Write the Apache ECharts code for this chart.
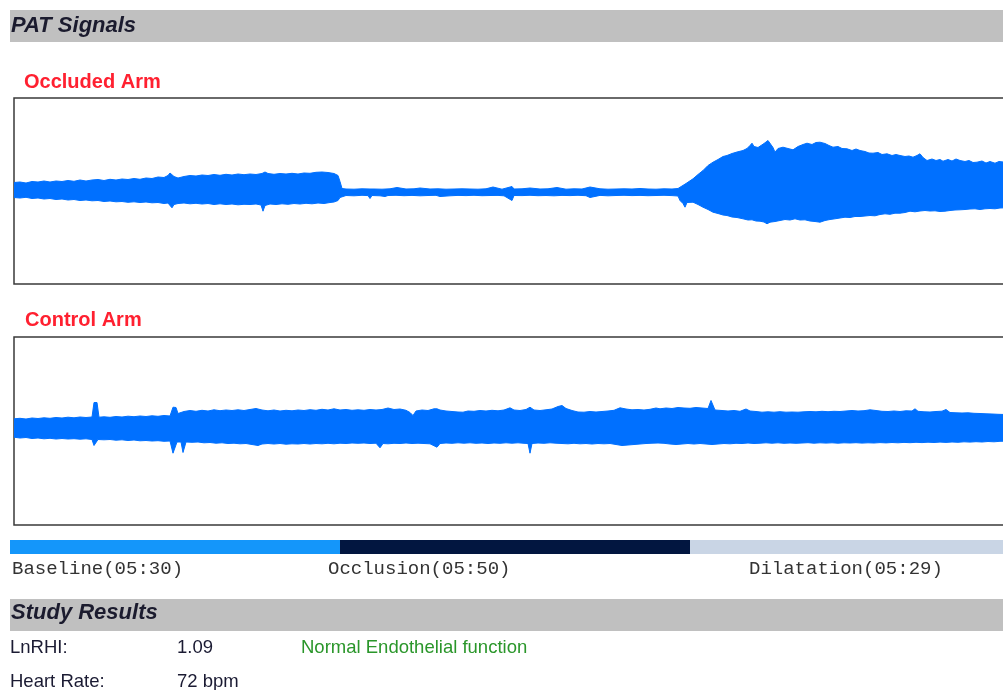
<!DOCTYPE html>
<html>
<head>
<meta charset="utf-8">
<title>PAT Signals</title>
<script src="https://cdn.jsdelivr.net/npm/echarts@6/dist/echarts.min.js"></script>
<style>
  html, body { margin: 0; padding: 0; background: #ffffff; width: 1003px; height: 690px; overflow: hidden; }
  #chart { width: 1040px; height: 690px; }
</style>
</head>
<body>
<div id="chart"></div>
<script>
// Phase timeline (seconds)
const phaseNames = ['Baseline', 'Occlusion', 'Dilatation'];
const phaseDurations = [330, 350, 329];
const phaseColors = ['#1496fa', '#021640', '#c9d5e5'];

// Study results
const resultLabels = ['LnRHI:', 'Heart Rate:'];
const resultValues = ['1.09', '72 bpm'];
const resultNote = 'Normal Endothelial function';

// PAT signal envelopes: [time (s), amplitude]
const occludedUpper = [
  [4,8.5],[10,9],[16,8],[22,9.5],[28,9],[34,10],[40,9],[46,10],[52,9.5],[58,10.5],[64,9.7],[70,11],[76,10],[82,11],[88,11.5],[94,10.5],[100,11.7],[106,11],[112,12],[118,11.5],[124,12.5],[130,11.7],[136,13],[142,12.5],[148,14],[154,13.5],[158,15.5],[160,18],[162,17.5],[164,14.5],[168,13],[174,14.5],[180,15.5],[186,15],[192,16],[198,15.5],[204,16.5],[210,15.7],[216,16.7],[222,16],[228,17],[234,16.3],[240,17],[246,16.5],[252,17.5],[255,19],[258,17.5],[264,16.7],[270,17.5],[276,17],[282,17.7],[288,17],[294,18],[300,17.7],[306,18.7],[312,19],[318,18.5],[324,17.5],[328,15.5],[330,9.5],[332,2.5],
  [336,2],[344,1.8],[352,2.2],[360,2],[362,3.5],[364,2],[372,1.8],[380,2.2],[387,3.5],[389,2],[396,2],[404,2.2],[410,3],[412,1.8],[420,2],[428,2.2],[436,1.8],[444,2],[452,2.2],[460,2],[468,1.8],[476,2.2],[483,4],[485,2],[492,1.8],[502,4.5],[504,2],[512,2.2],[520,3],[522,1.8],[530,2],[538,2.2],[547,3.5],[549,2],[556,1.8],[564,2.2],[572,2],[580,4],[582,2],[590,2.2],[598,1.8],[606,2],[614,2.2],[622,2],[630,2.5],[638,2],[646,1.8],[654,2.2],[662,2],[668,2.5],
  [670,3.8],[676,7.5],[683,12.2],[688,16.5],[693,20.5],[698,25.5],[703,28.8],[708,31.5],[713,34.5],[717,35.5],[722,37.5],[727,39],[733,40.5],[737,42.5],[740,45.5],[742,47.8],[744,44.5],[748,43.5],[750,43.8],[754,47.5],[758,50.5],[760,49.5],[763,43.5],[765,38.8],[768,42.5],[773,43.8],[778,42.5],[783,41.2],[788,44.5],[793,46.5],[797,47.8],[802,46.5],[806,48.5],[810,48.8],[815,47.5],[819,45.5],[823,43.8],[828,44.5],[832,42.5],[837,42.2],[842,40.5],[846,42],[850,40.5],[855,39.5],[859,38],[863,37.8],[868,38.5],[872,36.5],[877,37.2],[882,35.5],[886,36.5],[890,35.5],[895,34.5],[899,35],[903,33.8],[907,35.5],[910,37.2],[913,33.5],[917,30.5],[922,32],[926,30.5],[930,31.5],[933,29.8],[938,31.5],[942,30],[946,32],[950,30.5],[955,29.5],[959,30.5],[963,28.5],[967,28.8],[972,30],[976,28],[980,29.5],[985,27.8],[989,29.5],[995,28.8],[1009,28.5]
];
const occludedLower = [
  [4,-6.5],[10,-7],[16,-6.3],[22,-7.5],[28,-7],[34,-8],[40,-7.5],[46,-8.5],[52,-8],[58,-9],[64,-8.5],[70,-9.5],[76,-9],[82,-9.8],[88,-9.5],[94,-10.5],[100,-10],[106,-10.8],[112,-10.5],[118,-11.3],[124,-10.8],[130,-11.5],[136,-11],[142,-11.8],[148,-11.5],[154,-12.5],[158,-12],[160,-14.5],[162,-16.8],[164,-13.5],[168,-12.5],[174,-12],[180,-12.8],[186,-12.3],[192,-13],[198,-12.5],[204,-13.5],[210,-12.8],[216,-13.5],[222,-13],[228,-13.8],[234,-13.3],[240,-13.5],[246,-13],[251,-14],[253,-20.2],[255,-14.5],[260,-13],[266,-13.5],[272,-12.8],[278,-13.3],[284,-12.5],[290,-13],[296,-12.3],[302,-12.8],[308,-12],[314,-12.5],[320,-11.5],[324,-11],[328,-9.5],[330,-6.5],[332,-4.5],
  [336,-4.5],[344,-4.8],[352,-4.3],[358,-4.6],[360,-7.5],[362,-4.5],[370,-4.8],[375,-5.5],[378,-4.5],[386,-4.3],[394,-4.7],[402,-4.4],[410,-4.8],[418,-4.5],[426,-4.3],[430,-5.5],[432,-4.5],[440,-4.8],[448,-4.4],[456,-4.6],[464,-4.3],[472,-4.7],[480,-4.5],[488,-4.4],[494,-4.8],[502,-9.5],[504,-4.5],[512,-4.6],[520,-4.3],[528,-4.7],[536,-4.5],[544,-4.8],[552,-4.4],[560,-4.6],[568,-4.3],[576,-4.7],[580,-6.5],[582,-4.5],[590,-4.4],[598,-4.8],[606,-4.5],[614,-4.3],[622,-4.6],[630,-4.4],[638,-4.7],[646,-4.5],[654,-4.3],[662,-4.6],[668,-5],
  [670,-9.5],[673,-12.5],[675,-16.2],[677,-11.5],[683,-11.2],[688,-13.5],[693,-16.2],[698,-18.5],[703,-21.2],[708,-22.5],[713,-24],[717,-24.5],[722,-26],[727,-26.5],[733,-27.8],[738,-29],[742,-28.8],[746,-30],[750,-30.2],[754,-31],[757,-32.8],[760,-31.2],[765,-30.5],[770,-29.5],[775,-28.5],[780,-29],[785,-27.8],[790,-29],[795,-28.8],[800,-30],[805,-30.5],[810,-31.2],[815,-29.5],[820,-28.5],[825,-27.8],[830,-27],[835,-26.2],[840,-26.5],[845,-25.5],[850,-25.5],[855,-25],[860,-24.5],[865,-24.8],[870,-23.5],[875,-22.8],[880,-23.3],[885,-22.2],[890,-22.2],[895,-21.5],[900,-20.2],[905,-20.8],[910,-20],[915,-19.5],[920,-20],[925,-19.8],[930,-20.5],[935,-20.2],[940,-19.5],[945,-19],[950,-18.8],[955,-18.5],[960,-18],[965,-17.8],[970,-18.5],[975,-17.8],[980,-17.5],[985,-17.8],[990,-17],[995,-16.8],[1009,-16.5]
];
const controlUpper = [
  [4,12.2],[10,12.7],[16,12],[22,13],[28,12.5],[34,13.2],[40,12.7],[46,13.5],[52,13],[58,13.8],[64,13.2],[70,14],[76,13.5],[82,14],[84,28.5],[87,28.5],[89,13.8],[94,14.2],[100,13.7],[106,14.5],[112,14],[118,14.8],[124,14.3],[130,15],[136,14.5],[142,15.2],[148,14.7],[154,15.5],[160,15],[163,23.8],[166,23.5],[168,17.5],[174,19.5],[180,20.5],[186,19.7],[192,20.7],[198,20],[204,21.2],[210,20.3],[216,21],[222,20.5],[228,21.2],[234,20.5],[240,21.5],[246,22.5],[248,23.8],[252,21],[258,20.2],[264,21],[270,20],[276,20.7],[282,20.2],[288,21],[294,20.5],[300,21.3],[306,20.7],[312,21.7],[318,21],[324,22.2],[330,21],[336,21.5],[342,20.7],[348,21.2],[354,20.7],[360,21.5],[366,21],[372,21.5],[378,23],[380,23.8],[384,21.5],[390,22],[396,20.7],[400,18.5],[403,15.5],[406,20],[412,21],[418,20.5],[424,22.2],[427,22.2],[430,21],[436,20],[442,19.5],[448,19],[453,18.8],[458,20],[464,19.7],[470,20.5],[476,20],[482,20.7],[488,20.2],[494,21],[500,23.2],[504,21],[510,20.5],[516,21.5],[520,23.8],[524,21],[530,20.5],[536,21.2],[542,22],[548,24.5],[552,25.5],[556,22.5],[562,20.5],[568,19],[574,18.8],[580,19.5],[586,19],[592,19.5],[598,20],[604,20.7],[610,23.2],[616,22],[622,21.2],[628,21.5],[634,21],[640,21.7],[646,23],[650,22.2],[656,23],[662,22.5],[668,23.5],[674,23],[680,22.7],[686,23.5],[692,23],[698,22.5],[701,30.5],[703,29.5],[705,21],[712,20.5],[718,20],[724,20.5],[730,19.7],[736,22],[738,23.8],[740,20],[746,19.5],[752,18.8],[758,19.2],[764,18.8],[770,19.3],[776,18.8],[782,19],[788,18.8],[794,19.2],[800,19.5],[806,19.2],[812,19.7],[818,19.3],[824,19.7],[830,19.5],[836,20],[842,20.5],[848,20],[854,20.3],[860,21.2],[866,20.5],[872,19.7],[878,19.5],[884,20],[890,19.5],[896,20.2],[902,20],[905,22.2],[908,19.7],[914,19.2],[920,19],[926,19.5],[932,19.8],[936,21.5],[940,18.5],[946,18.2],[952,18],[958,18.2],[964,17.7],[970,17.5],[976,17.2],[982,17],[988,16.7],[995,16.5],[1009,16.3]
];
const controlLower = [
  [4,-6.2],[10,-7],[16,-6.5],[22,-7.5],[28,-7],[34,-7.8],[40,-7.3],[46,-8],[52,-7.5],[58,-8],[64,-7.7],[70,-8.2],[76,-7.8],[82,-8.5],[84,-14.5],[86,-13.5],[88,-8.5],[94,-8.8],[100,-8.5],[106,-9.2],[112,-8.8],[118,-9.5],[124,-9],[130,-9.8],[136,-9.5],[142,-10],[148,-9.7],[154,-10.3],[160,-10],[163,-22.2],[165,-22.2],[167,-11],[171,-11],[173,-21.5],[174,-21.5],[176,-11],[182,-11.3],[188,-11],[194,-11.8],[200,-11.5],[206,-12.2],[212,-11.8],[218,-12.5],[224,-12.2],[230,-12.8],[236,-12.5],[242,-13.5],[248,-14.5],[252,-13],[258,-12.5],[264,-13],[270,-12.5],[276,-13.2],[282,-12.8],[288,-13],[294,-12.5],[300,-13],[306,-12.5],[312,-12.8],[318,-12.3],[324,-12.8],[330,-12.2],[336,-12.5],[342,-12],[348,-12.3],[354,-12],[360,-12.5],[366,-12.2],[370,-16.8],[373,-12.5],[378,-12.8],[384,-12.3],[390,-12.5],[396,-12],[402,-12.5],[408,-12.2],[414,-12.5],[420,-12.8],[427,-16.2],[430,-12.5],[436,-12],[442,-12.3],[448,-11.8],[454,-12.2],[460,-11.8],[466,-12.3],[472,-12],[478,-12.5],[484,-12],[490,-12.3],[496,-11.8],[502,-12.2],[508,-11.8],[514,-12.3],[518,-12.5],[520,-22.2],[522,-12.5],[528,-12],[534,-12.3],[540,-11.8],[546,-12.2],[552,-12.5],[558,-12.8],[564,-12.3],[570,-12.8],[576,-12.5],[582,-13],[588,-12.5],[594,-12.8],[600,-12.5],[606,-13.5],[612,-14.5],[618,-14],[624,-13.5],[630,-13],[636,-12.5],[642,-12.2],[648,-12],[654,-12.3],[660,-13],[666,-13.5],[672,-13],[678,-12.5],[684,-13],[690,-12.5],[696,-13],[702,-13.5],[708,-13],[714,-12.5],[720,-12.8],[726,-12.3],[732,-12.5],[738,-12],[744,-12.5],[750,-12.2],[756,-11.8],[762,-12.2],[768,-11.8],[774,-12.3],[780,-12],[786,-12.3],[792,-12],[798,-11.7],[804,-12.2],[810,-11.8],[816,-12.1],[822,-11.8],[828,-12.2],[834,-11.8],[840,-12],[846,-11.7],[852,-12.1],[858,-11.8],[864,-12],[870,-11.6],[876,-11.9],[882,-11.5],[888,-11.8],[894,-11.4],[900,-11.7],[906,-11.3],[912,-11.6],[918,-11.2],[924,-11.5],[930,-11.1],[936,-11.4],[942,-11],[948,-11.3],[954,-10.8],[960,-11.1],[966,-10.7],[972,-11],[978,-10.5],[984,-10.8],[990,-10.3],[995,-10.2],[1009,-10]
];

const SIGNAL_BLUE = '#0070ff';
const SANS = '"Liberation Sans", Arial, sans-serif';
const MONO = '"Liberation Mono", "Courier New", monospace';

function mmss(sec) {
  const m = Math.floor(sec / 60), s = sec % 60;
  return String(m).padStart(2, '0') + ':' + String(s).padStart(2, '0');
}
const phaseLabels = phaseNames.map((n, i) => n + '(' + mmss(phaseDurations[i]) + ')');
const totalTime = phaseDurations.reduce((a, b) => a + b, 0);

// One side of a signal envelope, filled back to the zero line
function envelopeSeries(data, gridIdx) {
  return {
    type: 'line',
    xAxisIndex: gridIdx,
    yAxisIndex: gridIdx,
    data: data,
    symbol: 'none',
    smooth: false,
    silent: true,
    lineStyle: { color: SIGNAL_BLUE, width: 1 },
    areaStyle: { color: SIGNAL_BLUE, opacity: 1, origin: 0 }
  };
}

const chart = echarts.init(document.getElementById('chart'), null, { renderer: 'canvas' });

const signalX = (idx) => ({
  type: 'value', gridIndex: idx, min: 4, max: 4 + totalTime,
  show: false
});
const signalY = (idx, half) => ({
  type: 'value', gridIndex: idx, min: -half, max: half,
  show: false
});

const option = {
  animation: false,
  backgroundColor: '#ffffff',
  grid: [
    { left: 14, width: totalTime, top: 98, height: 186, show: true, borderColor: '#3a3a3a', borderWidth: 1.5, backgroundColor: '#ffffff' },
    { left: 14, width: totalTime, top: 337, height: 188, show: true, borderColor: '#3a3a3a', borderWidth: 1.5, backgroundColor: '#ffffff' },
    { left: 10, width: totalTime, top: 540, height: 14 }
  ],
  xAxis: [
    signalX(0),
    signalX(1),
    { type: 'value', gridIndex: 2, min: 0, max: totalTime, show: false }
  ],
  yAxis: [
    signalY(0, 93),
    signalY(1, 94),
    { type: 'category', gridIndex: 2, data: ['phase'], show: false }
  ],
  series: [
    envelopeSeries(occludedUpper, 0),
    envelopeSeries(occludedLower, 0),
    envelopeSeries(controlUpper, 1),
    envelopeSeries(controlLower, 1)
  ].concat(phaseDurations.map((d, i) => ({
    type: 'bar',
    name: phaseNames[i],
    xAxisIndex: 2,
    yAxisIndex: 2,
    stack: 'phase',
    barWidth: '100%',
    silent: true,
    data: [d],
    itemStyle: { color: phaseColors[i] }
  }))),
  graphic: [
    { type: 'rect', shape: { x: 10, y: 10, width: 1030, height: 32 }, style: { fill: '#c0c0c0' } },
    { type: 'text', x: 11, y: 25.5, style: { text: 'PAT Signals', font: 'italic bold 22px ' + SANS, fill: '#1b1b2e', verticalAlign: 'middle' } },
    { type: 'text', x: 24, y: 82, style: { text: 'Occluded Arm', font: 'bold 20px ' + SANS, fill: '#ff2030', verticalAlign: 'middle' } },
    { type: 'text', x: 25, y: 320.5, style: { text: 'Control Arm', font: 'bold 20px ' + SANS, fill: '#ff2030', verticalAlign: 'middle' } },
    { type: 'text', x: 12, y: 569, style: { text: phaseLabels[0], font: '19px ' + MONO, fill: '#333333', verticalAlign: 'middle' } },
    { type: 'text', x: 328, y: 569, style: { text: phaseLabels[1], font: '19px ' + MONO, fill: '#333333', verticalAlign: 'middle' } },
    { type: 'text', x: 749, y: 569, style: { text: phaseLabels[2], font: '19px ' + MONO, fill: '#333333', verticalAlign: 'middle' } },
    { type: 'rect', shape: { x: 10, y: 599, width: 1030, height: 32 }, style: { fill: '#c0c0c0' } },
    { type: 'text', x: 11, y: 612.5, style: { text: 'Study Results', font: 'italic bold 22px ' + SANS, fill: '#1b1b2e', verticalAlign: 'middle' } },
    { type: 'text', x: 10, y: 647.5, style: { text: resultLabels[0], font: '18.5px ' + SANS, fill: '#1b1b33', verticalAlign: 'middle' } },
    { type: 'text', x: 177, y: 647.5, style: { text: resultValues[0], font: '18.5px ' + SANS, fill: '#1b1b33', verticalAlign: 'middle' } },
    { type: 'text', x: 301, y: 647.5, style: { text: resultNote, font: '18.5px ' + SANS, fill: '#2a962a', verticalAlign: 'middle' } },
    { type: 'text', x: 10, y: 682, style: { text: resultLabels[1], font: '18.5px ' + SANS, fill: '#1b1b33', verticalAlign: 'middle' } },
    { type: 'text', x: 177, y: 682, style: { text: resultValues[1], font: '18.5px ' + SANS, fill: '#1b1b33', verticalAlign: 'middle' } }
  ]
};

chart.setOption(option);
</script>
</body>
</html>
